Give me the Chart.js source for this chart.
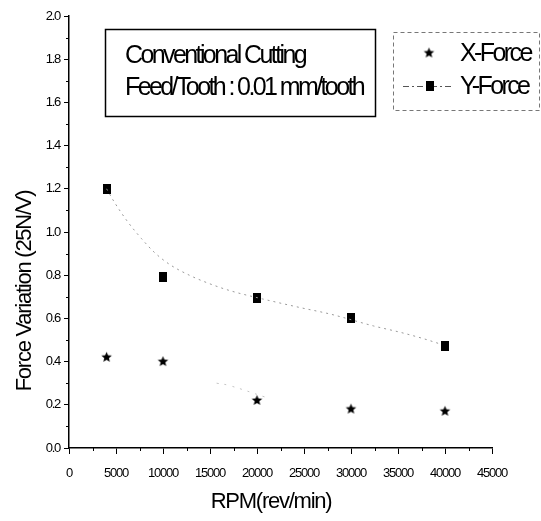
<!DOCTYPE html>
<html lang="en">
<head>
    <meta charset="UTF-8">
    <title>Force Variation vs RPM</title>
    <script src="https://cdn.jsdelivr.net/npm/chart.js"></script>
    <style>
        body {
            margin: 0;
            padding: 0;
            background-color: #fff;
        }
        .chart-box {
            width: 541px;
            height: 521px;
        }
    </style>
</head>
<body>
    <div class="chart-box">
        <canvas id="forceChart" width="541" height="521"></canvas>
    </div>

    <script>
        // measured points
        const rpm = [4000, 10000, 20000, 30000, 40000];
        const xForce = [0.42, 0.40, 0.22, 0.18, 0.17];
        const yForce = [1.20, 0.79, 0.695, 0.60, 0.47];

        // fitted trend for Y-Force (dotted curve)
        const yFitRpm = [4000, 4800, 6200, 7700, 9100, 10700, 12800, 15300, 17400, 20600, 24600, 27800, 32400, 35300, 37800, 39600];
        const yFitVal = [1.20, 1.14, 1.05, 0.97, 0.905, 0.85, 0.80, 0.755, 0.725, 0.69, 0.65, 0.62, 0.565, 0.535, 0.505, 0.48];

        // faint trend for X-Force
        const xFitRpm = [15700, 17000, 20850];
        const xFitVal = [0.30, 0.29, 0.236];

        const seriesNames = ['X-Force', 'Y-Force'];
        const noteLines = ['Conventional Cutting', 'Feed/Tooth : 0.01 mm/tooth'];
        const xTitle = 'RPM(rev/min)';
        const yTitle = 'Force Variation (25N/V)';

        const FONT = "'Liberation Sans', Arial, sans-serif";
        Chart.defaults.font.family = FONT;
        Chart.defaults.color = '#000';

        // filled five point star marker
        function starMarker(r) {
            const c = document.createElement('canvas');
            c.width = c.height = Math.ceil(r * 2 + 2);
            const g = c.getContext('2d');
            const cx = c.width / 2, cy = c.height / 2;
            g.beginPath();
            for (let i = 0; i < 10; i++) {
                const rad = i % 2 ? r * 0.45 : r;
                const a = -Math.PI / 2 + i * Math.PI / 5;
                g.lineTo(cx + rad * Math.cos(a), cy + rad * Math.sin(a));
            }
            g.closePath();
            g.fillStyle = '#000';
            g.fill();
            return c;
        }

        function boxMarker(w, h) {
            const c = document.createElement('canvas');
            c.width = w;
            c.height = h;
            const g = c.getContext('2d');
            g.fillStyle = '#000';
            g.fillRect(0, 0, w, h);
            return c;
        }

        const star = starMarker(5.5);
        const square = boxMarker(8, 10);

        const toXY = (xs, ys) => xs.map((v, i) => ({x: v, y: ys[i]}));

        // tight lettering for all the chart's own text
        const tightText = {
            id: 'tightText',
            beforeLayout(chart) { chart.ctx.letterSpacing = '-1.25px'; },
            beforeDraw(chart) { chart.ctx.letterSpacing = '-1.25px'; }
        };

        // axis titles, note box, legend and minor ticks
        const decor = {
            id: 'decor',
            afterDraw(chart) {
                const ctx = chart.ctx;
                const xs = chart.scales.x, ys = chart.scales.y;
                ctx.save();

                ctx.strokeStyle = '#000';
                ctx.lineWidth = 1;
                ctx.beginPath();
                for (let v = 2500; v < 45000; v += 5000) {
                    const px = Math.round(xs.getPixelForValue(v)) + 0.5;
                    ctx.moveTo(px, xs.top);
                    ctx.lineTo(px, xs.top + 3);
                }
                for (let i = 1; i < 20; i += 2) {
                    const py = Math.round(ys.getPixelForValue(i / 10)) + 0.5;
                    ctx.moveTo(ys.right, py);
                    ctx.lineTo(ys.right - 3, py);
                }
                ctx.stroke();

                ctx.fillStyle = '#000';
                ctx.textBaseline = 'middle';

                // axis titles
                ctx.font = '22px ' + FONT;
                ctx.letterSpacing = '-1.25px';
                ctx.textAlign = 'center';
                ctx.fillText(xTitle, 271, 502);
                ctx.save();
                ctx.translate(25, 291);
                ctx.rotate(-Math.PI / 2);
                ctx.fillText(yTitle, 0, 0);
                ctx.restore();

                ctx.textAlign = 'left';
                ctx.font = '25px ' + FONT;
                ctx.letterSpacing = '-2.6px';

                // note box
                ctx.lineWidth = 1.5;
                ctx.strokeRect(105.5, 29.5, 270, 87);
                ctx.fillText(noteLines[0], 125, 56);
                ctx.fillText(noteLines[1], 125, 88);

                // legend box
                ctx.lineWidth = 1;
                ctx.strokeStyle = '#777';
                ctx.setLineDash([4, 3]);
                ctx.strokeRect(393.5, 32.5, 146, 78);

                ctx.strokeStyle = '#555';
                ctx.setLineDash([6, 3, 2, 3]);
                ctx.beginPath();
                ctx.moveTo(403, 86.5);
                ctx.lineTo(452, 86.5);
                ctx.stroke();
                ctx.setLineDash([]);

                ctx.drawImage(star, 429 - star.width / 2, 53 - star.height / 2);
                ctx.drawImage(square, 430 - square.width / 2, 86 - square.height / 2);
                ctx.fillText(seriesNames[0], 460, 54);
                ctx.fillText(seriesNames[1], 460, 87);

                ctx.restore();
            }
        };

        const forceChart = new Chart(document.getElementById('forceChart'), {
            type: 'scatter',
            data: {
                datasets: [
                    {
                        label: 'Y-Force fit',
                        data: toXY(yFitRpm, yFitVal),
                        showLine: true,
                        borderColor: '#999',
                        borderWidth: 1,
                        borderDash: [2, 4],
                        cubicInterpolationMode: 'monotone',
                        pointRadius: 0
                    },
                    {
                        label: 'X-Force fit',
                        data: toXY(xFitRpm, xFitVal),
                        showLine: true,
                        borderColor: '#c4c4c4',
                        borderWidth: 1,
                        borderDash: [2, 6],
                        tension: 0.4,
                        pointRadius: 0
                    },
                    {
                        label: seriesNames[0],
                        data: toXY(rpm, xForce),
                        pointStyle: star,
                        showLine: false
                    },
                    {
                        label: seriesNames[1],
                        data: toXY(rpm, yForce),
                        pointStyle: square,
                        showLine: false
                    }
                ]
            },
            options: {
                responsive: false,
                animation: false,
                layout: {
                    padding: {top: 16, right: 49, bottom: 0, left: 0}
                },
                plugins: {
                    legend: {display: false},
                    tooltip: {enabled: false}
                },
                scales: {
                    x: {
                        type: 'linear',
                        min: 0,
                        max: 45000,
                        afterFit: s => { s.height = 73; },
                        ticks: {
                            stepSize: 5000,
                            maxRotation: 0,
                            autoSkip: false,
                            padding: 12,
                            font: {size: 13},
                            callback: v => String(v)
                        },
                        grid: {
                            drawOnChartArea: false,
                            drawTicks: true,
                            tickLength: 6,
                            tickColor: '#000'
                        },
                        border: {color: '#000', width: 1.5}
                    },
                    y: {
                        min: 0,
                        max: 2,
                        afterFit: s => { s.width = 69; },
                        ticks: {
                            stepSize: 0.2,
                            autoSkip: false,
                            padding: 4,
                            font: {size: 13},
                            callback: v => v.toFixed(1)
                        },
                        grid: {
                            drawOnChartArea: false,
                            drawTicks: true,
                            tickLength: 5,
                            tickColor: '#000'
                        },
                        border: {color: '#000', width: 1.5}
                    }
                }
            },
            plugins: [tightText, decor]
        });
    </script>
</body>
</html>
